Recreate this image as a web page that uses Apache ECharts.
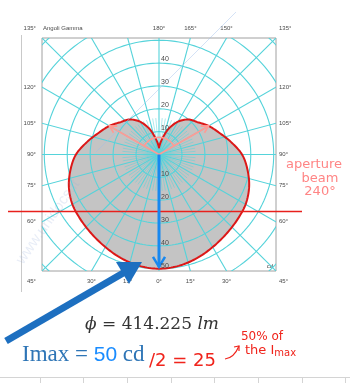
<!DOCTYPE html>
<html>
<head>
<meta charset="utf-8">
<script src="https://cdn.jsdelivr.net/npm/echarts@6/dist/echarts.min.js"></script>
<style>
  html, body { margin: 0; padding: 0; background: #ffffff; }
  #c { width: 350px; height: 383px; }
</style>
</head>
<body>
<div id="c"></div>
<script>
// Luminous intensity distribution (C0-C180 plane), gamma angles in degrees, cd
const GAMMA = [0, 10, 20, 30, 40, 50, 60, 70, 80, 90, 100, 110, 120, 130, 140, 150, 160, 170, 180];
const INTENSITY = [50, 49.5, 48.3, 46.8, 45.5, 44.5, 43.6, 41.8, 39.2, 36.2, 31.8, 27.9, 25, 22, 20, 16.6, 11.8, 6.4, 3];

// Polar grid
const RINGS = [10, 20, 30, 40, 50, 60, 70];
const RING_LABELS = [10, 20, 30, 40, 50];
const SPOKE_STEP = 15;
const MINOR_SPOKE_STEP = 5;
const ANGLE_TICKS_RIGHT = [0, 15, 30, 45, 60, 75, 90, 105, 120, 135, 150, 165, 180];
const ANGLE_TICKS_LEFT = [15, 30, 45, 60, 75, 90, 105, 120, 135];

// Photometric summary
const IMAX = 50;
const FLUX = '414.225';
const BEAM_ANGLE = 240;

const R = 51;
const GRID_COLOR = '#55d3da';
const FRAME = { left: 42, top: 38, width: 234, height: 233 };

function pol(r, gDeg) {
  const g = gDeg * Math.PI / 180;
  return [r * Math.sin(g), -r * Math.cos(g)];
}

// closed outline in data coordinates: right half 0..180, then left half back down
function curve() {
  const pts = [];
  for (let i = 0; i < GAMMA.length; i++) pts.push(pol(INTENSITY[i], GAMMA[i]));
  for (let i = GAMMA.length - 2; i >= 1; i--) pts.push(pol(INTENSITY[i], -GAMMA[i]));
  return pts;
}

// Catmull-Rom style cubic segments through the mapped points (sharp at the 180° cusp)
function smoothOutline(api) {
  const P = curve().map(c => api.coord(c));
  const N = P.length, cusp = GAMMA.length - 1;
  const tan = i => {
    const k = (i + N) % N;
    if (k === cusp) return [0, 0];
    const a = P[(k - 1 + N) % N], b = P[(k + 1) % N];
    return [(b[0] - a[0]) / 6, (b[1] - a[1]) / 6];
  };
  const out = [];
  const steps = 10;
  for (let i = 0; i < N; i++) {
    const p0 = P[i], p1 = P[(i + 1) % N];
    const t0 = tan(i), t1 = tan(i + 1);
    const c1 = [p0[0] + t0[0], p0[1] + t0[1]];
    const c2 = [p1[0] - t1[0], p1[1] - t1[1]];
    for (let s = 0; s < steps; s++) {
      const t = s / steps, u = 1 - t;
      out.push([
        u * u * u * p0[0] + 3 * u * u * t * c1[0] + 3 * u * t * t * c2[0] + t * t * t * p1[0],
        u * u * u * p0[1] + 3 * u * u * t * c1[1] + 3 * u * t * t * c2[1] + t * t * t * p1[1]
      ]);
    }
  }
  return out;
}

const chart = echarts.init(document.getElementById('c'), null, { renderer: 'canvas' });

chart.setOption({
  animation: false,
  backgroundColor: '#ffffff',
  grid: {
    left: FRAME.left, top: FRAME.top, width: FRAME.width, height: FRAME.height,
    show: true, borderColor: '#a0a0a0', borderWidth: 1, backgroundColor: '#ffffff'
  },
  xAxis: { type: 'value', min: -R, max: R, show: false },
  yAxis: { type: 'value', min: -R, max: R, show: false },
  series: [
    {
      // grey filled distribution
      type: 'custom', coordinateSystem: 'cartesian2d', data: [0], z: 1, silent: true,
      renderItem: (p, api) => ({
        type: 'polygon',
        shape: { points: smoothOutline(api) },
        style: { fill: '#c4c4c4', stroke: null }
      })
    },
    {
      // polar grid: rings and spokes, clipped to the frame
      type: 'custom', coordinateSystem: 'cartesian2d', data: [0], z: 2, silent: true,
      renderItem: (p, api) => {
        const cs = p.coordSys;
        const children = [];
        RINGS.forEach(r => {
          const pts = [];
          for (let a = 0; a <= 360; a += 2) pts.push(api.coord(pol(r, a)));
          children.push({ type: 'polyline', shape: { points: pts },
            style: { stroke: GRID_COLOR, lineWidth: 1.1, fill: null } });
        });
        for (let a = 0; a < 360; a += MINOR_SPOKE_STEP) {
          const major = a % SPOKE_STEP === 0;
          const start = api.coord(pol(major ? 0 : 2, a));
          const end = api.coord(pol(major ? 90 : 16, a));
          children.push({ type: 'line', shape: { x1: start[0], y1: start[1], x2: end[0], y2: end[1] },
            style: { stroke: GRID_COLOR, lineWidth: major ? 1.1 : 0.6, opacity: major ? 1 : 0.8 } });
        }
        return {
          type: 'group',
          clipPath: { type: 'rect', shape: { x: cs.x, y: cs.y, width: cs.width, height: cs.height } },
          children
        };
      }
    },
    {
      // red outline of the distribution
      type: 'custom', coordinateSystem: 'cartesian2d', data: [0], z: 3, silent: true,
      renderItem: (p, api) => ({
        type: 'polygon',
        shape: { points: smoothOutline(api) },
        style: { fill: null, stroke: '#dc1818', lineWidth: 2, lineJoin: 'round' }
      })
    },
    {
      // annotations: Imax arrow, half-intensity line, beam aperture
      type: 'custom', coordinateSystem: 'cartesian2d', data: [0], z: 4, silent: true,
      renderItem: (p, api) => {
        const children = [];
        const c0 = api.coord([0, 0]);
        const pinkLine = '#ff9a94';
        // half-intensity line
        const yHalf = api.coord([0, -IMAX / 2])[1];
        children.push({ type: 'line', shape: { x1: 8, y1: yHalf, x2: 302, y2: yHalf },
          style: { stroke: '#e8201c', lineWidth: 1.5 } });
        // beam aperture arms
        const half = BEAM_ANGLE / 2;
        const iHalf = INTENSITY[GAMMA.indexOf(half)];
        [half, -half].forEach(g => {
          const tip = api.coord(pol(iHalf, g));
          children.push({ type: 'line', shape: { x1: c0[0], y1: c0[1], x2: tip[0], y2: tip[1] },
            style: { stroke: pinkLine, lineWidth: 1.6 } });
          const ang = Math.atan2(tip[1] - c0[1], tip[0] - c0[0]);
          const hl = 8, hw = 0.5;
          children.push({ type: 'polyline', shape: { points: [
            [tip[0] - hl * Math.cos(ang - hw), tip[1] - hl * Math.sin(ang - hw)],
            tip,
            [tip[0] - hl * Math.cos(ang + hw), tip[1] - hl * Math.sin(ang + hw)]
          ] }, style: { stroke: pinkLine, lineWidth: 1.6, fill: null } });
        });
        const arc = [];
        for (let g = half; g <= 360 - half; g += 3) arc.push(api.coord(pol(7.5, g)));
        children.push({ type: 'polyline', shape: { points: arc },
          style: { stroke: pinkLine, lineWidth: 1.6, fill: null } });
        // Imax arrow
        const tip = api.coord([0, -IMAX + 0.8]);
        children.push({ type: 'line', shape: { x1: c0[0], y1: c0[1], x2: tip[0], y2: tip[1] },
          style: { stroke: '#1788f0', lineWidth: 3 } });
        children.push({ type: 'polyline', shape: { points: [[tip[0] - 6, tip[1] - 10], tip, [tip[0] + 6, tip[1] - 10]] },
          style: { stroke: '#1788f0', lineWidth: 2.5, fill: null } });
        return { type: 'group', children };
      }
    }
  ]
});

// Labels placed from the axis scales
const px = v => chart.convertToPixel({ gridIndex: 0 }, v);
const graphics = [];
const labelStyle = { fontSize: 6, fill: '#4a4a4a', fontFamily: 'Liberation Sans, Arial, sans-serif' };

function angleLabel(g, side) {
  const s = Math.sin(g * Math.PI / 180), c = Math.cos(g * Math.PI / 180);
  const t = R / Math.max(Math.abs(s), Math.abs(c));
  const pt = px([side * Math.abs(s) * t, -c * t]);
  const isSide = Math.abs(s) >= Math.abs(c) - 1e-6;
  const isTB = Math.abs(c) >= Math.abs(s) - 1e-6;
  let x = pt[0], y = pt[1], align = 'center';
  if (isSide) {
    if (side > 0) { x = pt[0] + 3; align = 'left'; } else { x = pt[0] - 6; align = 'right'; }
  }
  if (isTB) y = c > 0 ? pt[1] + 10 : pt[1] - 10;
  graphics.push({ type: 'text', x, y, silent: true,
    style: Object.assign({ text: g + '°', align, verticalAlign: 'middle' }, labelStyle) });
}
ANGLE_TICKS_RIGHT.forEach(g => angleLabel(g, 1));
ANGLE_TICKS_LEFT.forEach(g => angleLabel(g, -1));
graphics.push({ type: 'text', x: FRAME.left + 1, y: FRAME.top - 10, silent: true,
  style: Object.assign({ text: 'Angoli Gamma', align: 'left', verticalAlign: 'middle' }, labelStyle) });

RING_LABELS.forEach(r => {
  if (r < 50) {
    const p = px([0, r]);
    graphics.push({ type: 'text', x: p[0] + 2, y: p[1] - 4, silent: true, z: 10,
      style: { text: String(r), fontSize: 7, fill: '#4a4a4a', fontFamily: 'Liberation Sans, Arial, sans-serif', align: 'left', verticalAlign: 'middle' } });
  }
  const q = px([0, -r]);
  graphics.push({ type: 'text', x: q[0] + 2, y: q[1] - 3, silent: true, z: 10,
    style: { text: String(r), fontSize: 7, fill: '#4a4a4a', fontFamily: 'Liberation Sans, Arial, sans-serif', align: 'left', verticalAlign: 'middle' } });
});
graphics.push({ type: 'text', x: FRAME.left + FRAME.width - 3, y: FRAME.top + FRAME.height - 5, silent: true,
  style: { text: 'cd', fontSize: 6, fill: '#4a4a4a', fontFamily: 'Liberation Sans, Arial, sans-serif', align: 'right', verticalAlign: 'middle' } });

// page margin and table edge
graphics.push({ type: 'line', silent: true, shape: { x1: 21.5, y1: 35, x2: 21.5, y2: 292 }, style: { stroke: '#c9c9c9', lineWidth: 1 } });
graphics.push({ type: 'line', silent: true, shape: { x1: 0, y1: 377.5, x2: 350, y2: 377.5 }, style: { stroke: '#d4d4d4', lineWidth: 1 } });
[40, 83, 127, 171, 214, 258, 302, 345].forEach(x => {
  graphics.push({ type: 'line', silent: true, shape: { x1: x + 0.5, y1: 377, x2: x + 0.5, y2: 383 }, style: { stroke: '#d4d4d4', lineWidth: 1 } });
});

// faint watermark
graphics.push({ type: 'line', silent: true, z: 20, shape: { x1: 236, y1: 12, x2: 96, y2: 152 }, style: { stroke: 'rgba(160,190,235,0.45)', lineWidth: 1 } });
graphics.push({ type: 'text', silent: true, z: 20, x: 48, y: 222, rotation: 55 * Math.PI / 180,
  style: { text: 'www.unidocs.it', fontSize: 15, fill: 'rgba(150,175,220,0.22)', fontFamily: 'Liberation Sans, Arial, sans-serif', align: 'center', verticalAlign: 'middle' } });

// beam aperture note
const pink = '#ff8585';
const hand = 'DejaVu Sans, Noto Sans, sans-serif';
graphics.push({ type: 'text', silent: true, z: 20, x: 314, y: 165, style: { text: 'aperture', fontSize: 13, fill: pink, fontFamily: hand, align: 'center', verticalAlign: 'middle' } });
graphics.push({ type: 'text', silent: true, z: 20, x: 320, y: 179, style: { text: 'beam', fontSize: 13, fill: pink, fontFamily: hand, align: 'center', verticalAlign: 'middle' } });
graphics.push({ type: 'text', silent: true, z: 20, x: 320, y: 192, style: { text: BEAM_ANGLE + '°', fontSize: 13, fill: pink, fontFamily: hand, align: 'center', verticalAlign: 'middle' } });

// big pointer arrow to Imax
const blue2 = '#1d6fc0';
graphics.push({ type: 'line', silent: true, z: 20, shape: { x1: 6, y1: 341, x2: 125, y2: 272 }, style: { stroke: blue2, lineWidth: 7, lineCap: 'butt' } });
graphics.push({ type: 'polygon', silent: true, z: 20, shape: { points: [[142, 262], [129, 284], [116, 262]] }, style: { fill: blue2 } });

// luminous flux
graphics.push({ type: 'text', silent: true, z: 20, x: 152, y: 325,
  style: {
    text: '{i|ϕ} = ' + FLUX + ' {i|lm}', align: 'center', verticalAlign: 'middle',
    fontSize: 17, fill: '#333333', fontFamily: 'DejaVu Serif, Liberation Serif, serif',
    rich: { i: { fontStyle: 'italic', fontSize: 17, fill: '#333333', fontFamily: 'DejaVu Serif, Liberation Serif, serif' } }
  } });

// Imax line
graphics.push({ type: 'text', silent: true, z: 20, x: 22, y: 355,
  style: {
    text: '{a|Imax = }{b|' + IMAX + '}{a| cd}', align: 'left', verticalAlign: 'middle',
    rich: {
      a: { fontSize: 23, fill: '#2e75b6', fontFamily: 'Liberation Serif, Times New Roman, serif' },
      b: { fontSize: 21, fill: '#1a8cff', fontFamily: 'Liberation Sans, Arial, sans-serif' }
    }
  } });

// handwritten notes
const red = '#f0241c';
graphics.push({ type: 'text', silent: true, z: 20, x: 149, y: 361,
  style: { text: '/2 = ' + IMAX / 2, fontSize: 18, fill: red, fontFamily: hand, align: 'left', verticalAlign: 'middle' } });
graphics.push({ type: 'text', silent: true, z: 20, x: 262, y: 337,
  style: { text: '50% of', fontSize: 12, fill: red, fontFamily: hand, align: 'center', verticalAlign: 'middle' } });
graphics.push({ type: 'text', silent: true, z: 20, x: 245, y: 351,
  style: { text: 'the I{s|max}', fontSize: 13, fill: red, fontFamily: hand, align: 'left', verticalAlign: 'middle',
    rich: { s: { fontSize: 10, fill: red, fontFamily: hand, padding: [4, 0, 0, 0] } } } });
graphics.push({ type: 'bezierCurve', silent: true, z: 20, shape: { x1: 225, y1: 359, x2: 239, y2: 346, cpx1: 234, cpy1: 358 }, style: { stroke: red, lineWidth: 1.2, fill: null } });
graphics.push({ type: 'polyline', silent: true, z: 20, shape: { points: [[234, 347], [239, 346], [239, 351]] }, style: { stroke: red, lineWidth: 1.2, fill: null } });

chart.setOption({ graphic: graphics });
</script>
</body>
</html>
